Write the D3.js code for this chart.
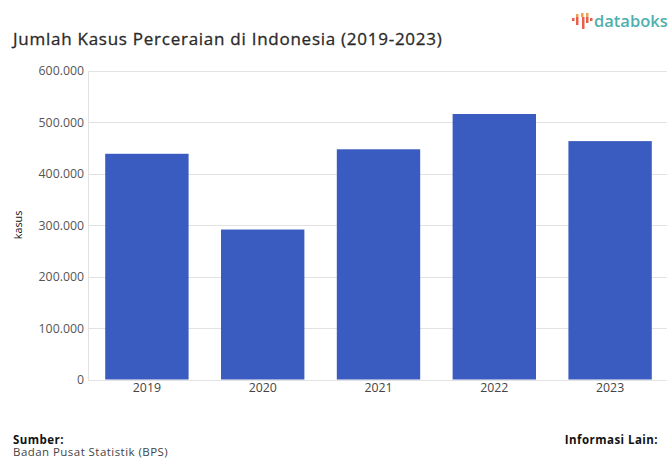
<!DOCTYPE html>
<html>
<head>
<meta charset="utf-8">
<style>
html,body{margin:0;padding:0;background:#fff;overflow:hidden}
svg{display:block}
text{font-family:"Open Sans","Noto Sans",sans-serif}
</style>
<script src="https://cdn.jsdelivr.net/npm/d3@7"></script>
</head>
<body>
<svg id="chart" width="669" height="459"></svg>
<script>
// Annual divorce cases in Indonesia
const years = ["2019","2020","2021","2022","2023"];
const cases = [439002,291677,447743,516344,463654];
const yTicks = [0,100000,200000,300000,400000,500000,600000];

const svg = d3.select("#chart");
const x = d3.scaleBand().domain(years).range([89,668]).paddingInner(0.28).paddingOuter(0.14);
const y = d3.scaleLinear().domain([0,600000]).range([379.5,71]);
const fmt = v => d3.format(",")(v).replace(/,/g,".");

// Gridlines and value axis
const yAxis = d3.axisLeft(y).tickValues(yTicks).tickFormat(fmt).tickSize(0).tickPadding(4);
const yG = svg.append("g").attr("transform","translate(88,0)").call(yAxis);
yG.select(".domain").remove();
yG.selectAll("text").attr("fill","#555").style("font-size","12.3px");
svg.append("g").selectAll("line").data(yTicks).join("line")
  .attr("x1",88).attr("x2",667).attr("y1",d=>Math.round(y(d))+.5).attr("y2",d=>Math.round(y(d))+.5)
  .attr("stroke","#e2e2e2");
svg.append("line").attr("x1",88.5).attr("x2",88.5).attr("y1",71).attr("y2",380).attr("stroke","#e2e2e2");

// Bars
svg.append("g").selectAll("rect").data(years).join("rect")
  .attr("x",d=>x(d)).attr("width",x.bandwidth())
  .attr("y",(d,i)=>y(cases[i])).attr("height",(d,i)=>y(0)-y(cases[i]))
  .attr("fill","#3a5bbf");

// Category axis
const xAxis = d3.axisBottom(x).tickSize(0).tickPadding(3);
const xG = svg.append("g").attr("transform","translate(0,380)").call(xAxis);
xG.select(".domain").remove();
xG.selectAll("text").attr("fill","#444").style("font-size","12.3px");

// Value axis title
svg.append("text").attr("transform","translate(22,225) rotate(-90)")
  .attr("text-anchor","middle").attr("fill","#111").style("font-size","10.8px").text("kasus");

// Heading, thickened slightly with a hairline stroke
svg.append("text").attr("x",13).attr("y",45).attr("fill","#2a2a2a")
  .attr("stroke","#2a2a2a").attr("stroke-width",0.3)
  .style("font-size","17px").style("letter-spacing","0.74px")
  .text("Jumlah Kasus Perceraian di Indonesia (2019-2023)");

// Footer
svg.append("text").attr("x",13).attr("y",444).attr("fill","#111")
  .style("font-size","11.5px").style("font-weight","700").style("letter-spacing","0.45px").text("Sumber:");
svg.append("text").attr("x",13).attr("y",456).attr("fill","#444")
  .style("font-size","11.5px").style("letter-spacing","0.45px").text("Badan Pusat Statistik (BPS)");
svg.append("text").attr("x",658).attr("y",444).attr("text-anchor","end").attr("fill","#111")
  .style("font-size","11.5px").style("font-weight","700").style("letter-spacing","0.45px").text("Informasi Lain:");

// Brand mark
const logoRed = "#e8604c", logoOrange = "#f0a050";
const logo = svg.append("g");
logo.selectAll("rect").data([
  [572,18,3,logoRed],[576,14,3,logoOrange],[576,17,8,logoRed],[581,13,4,logoOrange],
  [582,17,12,logoRed],[586,13,4,logoOrange],[586,17,6,logoRed],[590,18,3,logoRed]
]).join("rect").attr("x",d=>d[0]).attr("y",d=>d[1]).attr("width",2.5).attr("height",d=>d[2]).attr("fill",d=>d[3]);
svg.append("text").attr("x",594).attr("y",27).attr("fill","#4fb0ae")
  .style("font-size","16.5px").style("font-weight","600").text("databoks");
</script>
</body>
</html>
